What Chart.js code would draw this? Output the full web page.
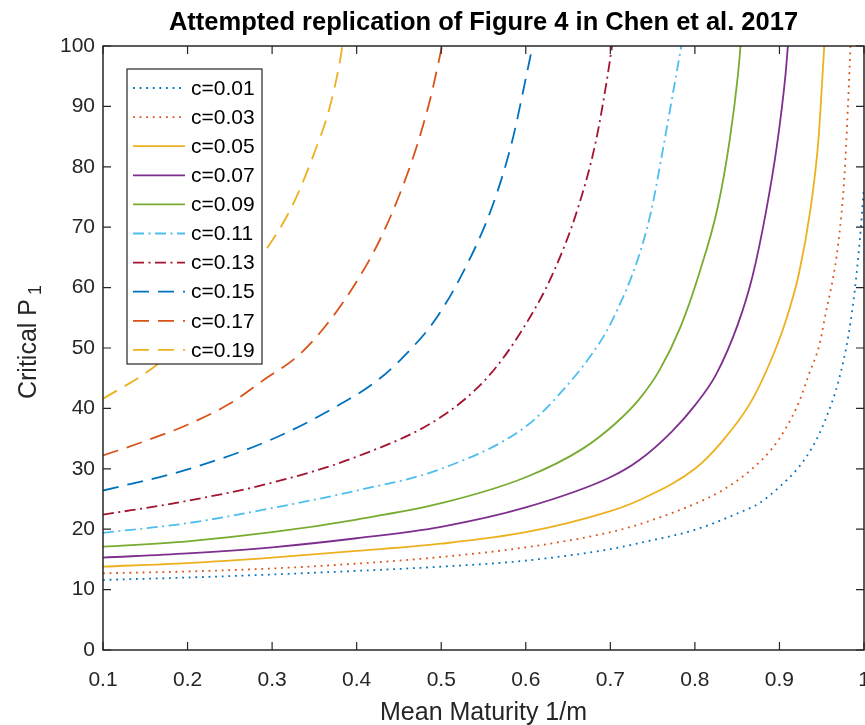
<!DOCTYPE html>
<html>
<head>
<meta charset="utf-8">
<script src="https://cdn.jsdelivr.net/npm/chart.js@4.4.1/dist/chart.umd.min.js"></script>
<style>
  body { margin: 0; background: #fff; }
  #wrap { width: 865px; height: 725px; }
</style>
</head>
<body>
<div id="wrap"><canvas id="critChart" width="865" height="725"></canvas></div>
<script>
// values
const seriesLabels = ['c=0.01', 'c=0.03', 'c=0.05', 'c=0.07', 'c=0.09', 'c=0.11', 'c=0.13', 'c=0.15', 'c=0.17', 'c=0.19'];

const x01 = [0.1, 0.2, 0.3, 0.4, 0.5, 0.6, 0.7, 0.734, 0.8, 0.85, 0.876, 0.9, 0.923, 0.939, 0.954, 0.97, 0.982, 0.989, 0.995, 1.0];
const y01 = [11.6, 12.0, 12.5, 13.1, 13.8, 14.8, 16.7, 17.7, 19.9, 22.6, 24.3, 27.0, 30.3, 33.6, 38.0, 44.6, 52.4, 59.5, 67.8, 76.6];

const x03 = [0.1, 0.2, 0.3, 0.4, 0.5, 0.6, 0.7, 0.734, 0.8, 0.832, 0.866, 0.891, 0.907, 0.923, 0.935, 0.947, 0.953, 0.97, 0.977, 0.981, 0.984];
const y03 = [12.7, 13.0, 13.5, 14.3, 15.4, 17.0, 19.5, 20.8, 24.2, 26.4, 29.8, 33.3, 36.6, 41.0, 45.7, 50.4, 54.5, 67.8, 78.8, 90.0, 100];

const x05 = [0.1, 0.2, 0.3, 0.4, 0.5, 0.6, 0.7, 0.734, 0.8, 0.832, 0.866, 0.891, 0.907, 0.923, 0.937, 0.946, 0.951, 0.953];
const y05 = [13.8, 14.4, 15.3, 16.4, 17.6, 19.5, 23.0, 24.8, 30.0, 34.5, 41.0, 48.3, 54.3, 62.3, 73.3, 84.3, 95.3, 100];

const x07 = [0.1, 0.2, 0.3, 0.4, 0.5, 0.6, 0.7, 0.734, 0.773, 0.8, 0.825, 0.851, 0.868, 0.884, 0.897, 0.907, 0.910];
const y07 = [15.3, 16.0, 17.0, 18.5, 20.4, 23.6, 28.6, 31.4, 36.2, 40.5, 45.6, 54.0, 61.8, 72.5, 83.5, 95.0, 100];

const x09 = [0.1, 0.2, 0.3, 0.4, 0.5, 0.6, 0.667, 0.706, 0.734, 0.758, 0.783, 0.805, 0.827, 0.841, 0.851, 0.854];
const y09 = [17.1, 18.0, 19.5, 21.6, 24.3, 28.6, 33.3, 37.5, 41.5, 46.3, 53.5, 62.3, 73.3, 84.3, 95.3, 100];

const x11 = [0.1, 0.2, 0.3, 0.4, 0.5, 0.6, 0.647, 0.687, 0.702, 0.732, 0.748, 0.763, 0.778, 0.784];
const y11 = [19.4, 21.0, 23.5, 26.4, 30.0, 37.0, 43.5, 50.8, 54.5, 64.5, 72.5, 83.5, 95.3, 100];

const x13 = [0.1, 0.2, 0.3, 0.4, 0.5, 0.557, 0.598, 0.632, 0.662, 0.683, 0.697, 0.702];
const y13 = [22.4, 24.7, 27.7, 32.0, 38.6, 45.5, 53.5, 62.3, 73.3, 84.3, 95.3, 100];

const x15 = [0.1, 0.2, 0.3, 0.372, 0.427, 0.466, 0.492, 0.525, 0.56, 0.584, 0.601, 0.608];
const y15 = [26.4, 29.9, 34.9, 40.0, 44.9, 50.1, 54.5, 62.3, 73.3, 84.3, 95.3, 100];

const x17 = [0.1, 0.15, 0.2, 0.25, 0.289, 0.333, 0.368, 0.4, 0.427, 0.451, 0.472, 0.488, 0.501];
const y17 = [32.2, 34.6, 37.3, 40.8, 44.6, 49.0, 54.5, 61.0, 67.8, 75.5, 83.8, 91.8, 100];

const x19 = [0.1, 0.155, 0.2, 0.25, 0.289, 0.323, 0.348, 0.368, 0.381, 0.383];
const y19 = [41.6, 46.3, 51.5, 58.5, 65.5, 73.3, 81.6, 89.8, 98.1, 100];

const xTicks = [0.1, 0.2, 0.3, 0.4, 0.5, 0.6, 0.7, 0.8, 0.9, 1];
const yTicks = [0, 10, 20, 30, 40, 50, 60, 70, 80, 90, 100];

const FONT = '"Liberation Sans", Arial, Helvetica, sans-serif';
const AXIS = '#262626';

const dotted = [1.8, 4.8];
const dashDot = [11, 4.5, 2, 4.5];
const dashed = [16, 9];

function pts(xs, ys) {
  return xs.map((x, i) => ({ x: x, y: ys[i] }));
}

function line(i, xs, ys, color, dash) {
  return {
    label: seriesLabels[i],
    data: pts(xs, ys),
    borderColor: color,
    borderWidth: 1.8,
    borderDash: dash,
    pointRadius: 0,
    fill: false,
    cubicInterpolationMode: 'monotone'
  };
}

// MATLAB-like box with inward ticks
const axesBox = {
  id: 'axesBox',
  afterDraw(chart) {
    const { ctx, chartArea: a, scales } = chart;
    ctx.save();
    ctx.strokeStyle = AXIS;
    ctx.lineWidth = 1.5;
    ctx.setLineDash([]);
    ctx.strokeRect(a.left, a.top, a.right - a.left, a.bottom - a.top);
    ctx.lineWidth = 1.2;
    ctx.beginPath();
    scales.x.ticks.forEach(t => {
      const px = scales.x.getPixelForValue(t.value);
      ctx.moveTo(px, a.bottom); ctx.lineTo(px, a.bottom - 8);
      ctx.moveTo(px, a.top); ctx.lineTo(px, a.top + 8);
    });
    scales.y.ticks.forEach(t => {
      const py = scales.y.getPixelForValue(t.value);
      ctx.moveTo(a.left, py); ctx.lineTo(a.left + 8, py);
      ctx.moveTo(a.right, py); ctx.lineTo(a.right - 8, py);
    });
    ctx.stroke();

    // y label with subscript
    ctx.translate(29, 342);
    ctx.rotate(-Math.PI / 2);
    ctx.fillStyle = AXIS;
    ctx.textBaseline = 'middle';
    ctx.textAlign = 'left';
    const main = 'Critical P';
    ctx.font = '25px ' + FONT;
    const w1 = ctx.measureText(main).width;
    ctx.font = '18px ' + FONT;
    const w2 = ctx.measureText('1').width;
    const start = -(w1 + 4 + w2) / 2;
    ctx.font = '25px ' + FONT;
    ctx.fillText(main, start, 0);
    ctx.font = '18px ' + FONT;
    ctx.fillText('1', start + w1 + 4, 7);
    ctx.restore();
  }
};

// legend box drawn inside the axes, covering lines like MATLAB does
const boxLegend = {
  id: 'boxLegend',
  afterDatasetsDraw(chart) {
    const { ctx, chartArea: a } = chart;
    const bx = a.left + 24, by = a.top + 23, bw = 135, bh = 295;
    ctx.save();
    ctx.fillStyle = '#fff';
    ctx.fillRect(bx, by, bw, bh);
    ctx.strokeStyle = AXIS;
    ctx.lineWidth = 1.2;
    ctx.setLineDash([]);
    ctx.strokeRect(bx, by, bw, bh);
    ctx.font = '21px ' + FONT;
    ctx.textBaseline = 'middle';
    ctx.textAlign = 'left';
    chart.data.datasets.forEach((ds, i) => {
      const cy = by + 19 + i * 29.1;
      ctx.strokeStyle = ds.borderColor;
      ctx.lineWidth = ds.borderWidth;
      ctx.setLineDash(ds.borderDash);
      ctx.beginPath();
      ctx.moveTo(bx + 6, cy);
      ctx.lineTo(bx + 58, cy);
      ctx.stroke();
      ctx.fillStyle = '#000';
      ctx.fillText(ds.label, bx + 64, cy + 1);
    });
    ctx.restore();
  }
};

new Chart(document.getElementById('critChart'), {
  type: 'line',
  data: {
    datasets: [
      line(0, x01, y01, '#0072BD', dotted),
      line(1, x03, y03, '#D95319', dotted),
      line(2, x05, y05, '#EDB120', []),
      line(3, x07, y07, '#7E2F8E', []),
      line(4, x09, y09, '#77AC30', []),
      line(5, x11, y11, '#4DBEEE', dashDot),
      line(6, x13, y13, '#A2142F', dashDot),
      line(7, x15, y15, '#0072BD', dashed),
      line(8, x17, y17, '#D95319', dashed),
      line(9, x19, y19, '#EDB120', dashed)
    ]
  },
  options: {
    responsive: false,
    animation: false,
    layout: { padding: { left: 0, right: 1, top: 0, bottom: 0 } },
    plugins: {
      legend: { display: false },
      tooltip: { enabled: false },
      title: {
        display: true,
        fullSize: false,
        text: 'Attempted replication of Figure 4 in Chen et al. 2017',
        color: '#000',
        font: { family: FONT, size: 25.5, weight: 'bold', lineHeight: 1.2 },
        padding: { top: 8, bottom: 7.4 }
      }
    },
    scales: {
      x: {
        type: 'linear',
        min: xTicks[0],
        max: xTicks[xTicks.length - 1],
        grid: { display: false, drawTicks: false },
        border: { display: false },
        afterBuildTicks: s => { s.ticks = xTicks.map(v => ({ value: v })); },
        ticks: {
          autoSkip: false,
          maxRotation: 0,
          padding: 18,
          color: AXIS,
          font: { family: FONT, size: 21 },
          callback: v => String(+Number(v).toFixed(1))
        },
        title: {
          display: true,
          text: 'Mean Maturity 1/m',
          color: AXIS,
          font: { family: FONT, size: 25, lineHeight: 1 },
          padding: { top: 0, bottom: -1 }
        },
        afterFit: s => { s.height = 75; s.paddingLeft = 0; s.paddingRight = 0; }
      },
      y: {
        min: yTicks[0],
        max: yTicks[yTicks.length - 1],
        grid: { display: false, drawTicks: false },
        border: { display: false },
        afterBuildTicks: s => { s.ticks = yTicks.map(v => ({ value: v })); },
        ticks: {
          padding: 8,
          color: AXIS,
          font: { family: FONT, size: 21 }
        },
        afterFit: s => { s.width = 103; }
      }
    }
  },
  plugins: [boxLegend, axesBox]
});
</script>
</body>
</html>
